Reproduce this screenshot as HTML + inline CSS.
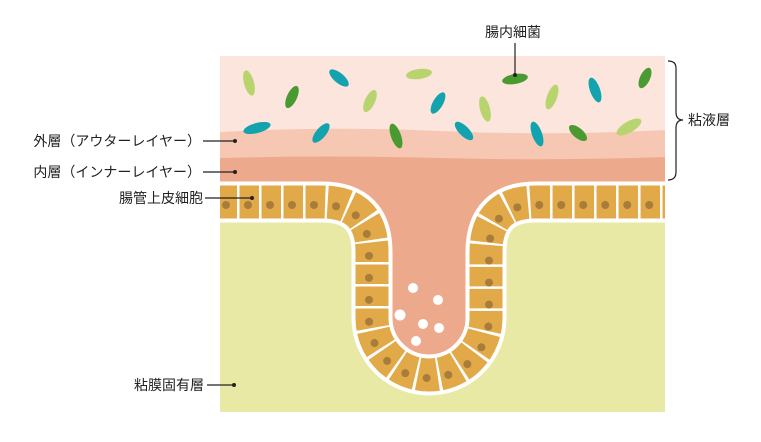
<!DOCTYPE html>
<html><head><meta charset="utf-8"><style>
html,body{margin:0;padding:0;background:#fff;}
svg{display:block;}
text{font-family:"Liberation Sans","Noto Sans CJK JP",sans-serif;font-size:14px;fill:#222;}
</style></head><body>
<svg width="761" height="442" viewBox="0 0 761 442" xmlns="http://www.w3.org/2000/svg">
<defs><clipPath id="c"><rect x="220" y="56" width="445" height="356"/></clipPath></defs>
<g clip-path="url(#c)">
<rect x="220" y="56" width="445" height="356" fill="#fbe5dc"/>
<path d="M220,132 Q330,126 440,131 T665,130 V412 H220 Z" fill="#f6c8b4"/>
<path d="M220,158 Q330,155 440,158 T665,157 V412 H220 Z" fill="#eda98c"/>
<path d="M220,202 H322 Q372,202 372,252 V318 A57,57 0 0 0 486,318 V252 Q486,202 536,202 H665 V412 H220 Z" fill="#e8e9a5"/>
<g fill="none">
<path d="M215,202 H322 Q372,202 372,252 V318 A57,57 0 0 0 486,318 V252 Q486,202 536,202 H670" stroke="#fff" stroke-width="41"/>
<path d="M215,202 H322 Q372,202 372,252 V318 A57,57 0 0 0 486,318 V252 Q486,202 536,202 H670" stroke="#e2a949" stroke-width="33"/>
<path d="M215,202 H322 Q372,202 372,252 V318 A57,57 0 0 0 486,318 V252 Q486,202 536,202 H670" stroke="#fff" stroke-width="34" stroke-dasharray="2.5 19.5" stroke-dashoffset="0"/>
<path d="M215,205 H322 Q369,205 369,252 V318 A60,60 0 0 0 489,318 V252 Q489,205 536,205 H670" stroke="#a87c3a" stroke-width="8" stroke-linecap="round" stroke-dasharray="0 22" stroke-dashoffset="-11"/>
</g>
<g fill="#fff">
<circle cx="413" cy="288" r="5"/><circle cx="438" cy="300" r="5"/><circle cx="400" cy="315" r="5.5"/>
<circle cx="423" cy="324" r="5"/><circle cx="439" cy="328" r="5"/><circle cx="416" cy="341" r="5"/>
</g>
<g>
<ellipse cx="249" cy="83" rx="13" ry="5" fill="#b8d46e" transform="rotate(75 249 83)"/>
<ellipse cx="292" cy="97" rx="12" ry="5" fill="#4a9a32" transform="rotate(-65 292 97)"/>
<ellipse cx="339" cy="78" rx="12" ry="5" fill="#12a3ae" transform="rotate(40 339 78)"/>
<ellipse cx="419" cy="74" rx="13" ry="5" fill="#b8d46e" transform="rotate(-8 419 74)"/>
<ellipse cx="515" cy="79" rx="13" ry="5" fill="#4a9a32" transform="rotate(-10 515 79)"/>
<ellipse cx="370" cy="101" rx="12" ry="5" fill="#b8d46e" transform="rotate(-65 370 101)"/>
<ellipse cx="438" cy="103" rx="12" ry="5" fill="#12a3ae" transform="rotate(-60 438 103)"/>
<ellipse cx="485" cy="109" rx="13" ry="5" fill="#b8d46e" transform="rotate(75 485 109)"/>
<ellipse cx="552" cy="97" rx="13" ry="5" fill="#b8d46e" transform="rotate(-70 552 97)"/>
<ellipse cx="595" cy="90" rx="13" ry="5" fill="#12a3ae" transform="rotate(70 595 90)"/>
<ellipse cx="645" cy="78" rx="11" ry="5" fill="#4a9a32" transform="rotate(-65 645 78)"/>
<ellipse cx="257" cy="128" rx="14" ry="5" fill="#12a3ae" transform="rotate(-15 257 128)"/>
<ellipse cx="321" cy="133" rx="12" ry="5" fill="#12a3ae" transform="rotate(-50 321 133)"/>
<ellipse cx="396" cy="136" rx="13" ry="5" fill="#4a9a32" transform="rotate(70 396 136)"/>
<ellipse cx="464" cy="131" rx="12" ry="5" fill="#12a3ae" transform="rotate(45 464 131)"/>
<ellipse cx="537" cy="134" rx="13" ry="5" fill="#12a3ae" transform="rotate(70 537 134)"/>
<ellipse cx="578" cy="133" rx="11" ry="5" fill="#4a9a32" transform="rotate(40 578 133)"/>
<ellipse cx="629" cy="127" rx="14" ry="5.5" fill="#b8d46e" transform="rotate(-30 629 127)"/>
</g>
</g>
<g stroke="#222" stroke-width="1.2" fill="none">
<line x1="515" y1="43" x2="515" y2="75"/>
<path d="M668,61 Q676,61 676,68 V112 Q676,120 683,120 Q676,120 676,128 V172 Q676,180 668,180"/>
<line x1="203" y1="141" x2="235" y2="141"/>
<line x1="203" y1="172" x2="235" y2="172"/>
<line x1="205" y1="198" x2="252" y2="198"/>
<line x1="207" y1="385" x2="234" y2="385"/>
</g>
<g fill="#222">
<circle cx="515" cy="75" r="2"/><circle cx="235" cy="141" r="2"/><circle cx="235" cy="172" r="2"/>
<circle cx="252" cy="198" r="2"/><circle cx="234" cy="385" r="2"/>
</g>
<text x="513" y="37" text-anchor="middle">腸内細菌</text>
<text x="688" y="125">粘液層</text>
<text x="201" y="146" text-anchor="end">外層（アウターレイヤー）</text>
<text x="201" y="177" text-anchor="end">内層（インナーレイヤー）</text>
<text x="203" y="203" text-anchor="end">腸管上皮細胞</text>
<text x="204" y="390" text-anchor="end">粘膜固有層</text>
</svg>
</body></html>
